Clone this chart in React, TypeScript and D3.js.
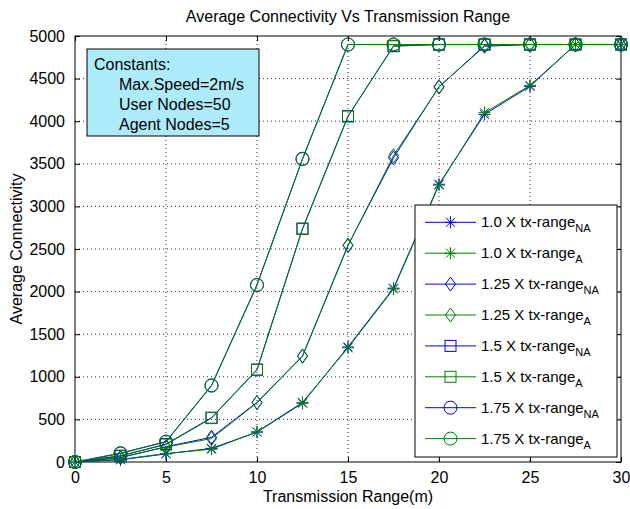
import { useEffect, useRef } from "react";
import * as d3 from "d3";

// transmission range samples (m)
const ranges = [0, 2.5, 5, 7.5, 10, 12.5, 15, 17.5, 20, 22.5, 25, 27.5, 30];

// average connectivity, NA = no agents, A = with agents
const na100 = [0, 25, 95, 160, 350, 690, 1350, 2040, 3260, 4080, 4410, 4900, 4900];
const a100 = [0, 30, 100, 150, 355, 700, 1340, 2030, 3250, 4100, 4420, 4900, 4900];
const na125 = [0, 50, 180, 290, 700, 1245, 2545, 3570, 4405, 4880, 4900, 4900, 4900];
const a125 = [0, 55, 175, 275, 695, 1240, 2540, 3595, 4400, 4890, 4900, 4900, 4900];
const na150 = [0, 70, 210, 520, 1085, 2740, 4060, 4880, 4900, 4900, 4900, 4900, 4900];
const a150 = [0, 75, 205, 515, 1080, 2735, 4055, 4885, 4900, 4900, 4900, 4900, 4900];
const na175 = [0, 100, 240, 900, 2080, 3560, 4900, 4900, 4900, 4900, 4900, 4900, 4900];
const a175 = [0, 105, 235, 895, 2075, 3555, 4900, 4900, 4900, 4900, 4900, 4900, 4900];

const legendNames = ["1.0", "1.0", "1.25", "1.25", "1.5", "1.5", "1.75", "1.75"];
const legendSubs = ["NA", "A", "NA", "A", "NA", "A", "NA", "A"];
const markers = ["star", "star", "diamond", "diamond", "square", "square", "circle", "circle"];

const xTicks = [0, 5, 10, 15, 20, 25, 30];
const yTicks = [0, 500, 1000, 1500, 2000, 2500, 3000, 3500, 4000, 4500, 5000];

const constants = ["Constants:", "Max.Speed=2m/s", "User Nodes=50", "Agent Nodes=5"];

const BLUE = "#0000ff";
const GREEN = "#008000";
const FONT = "'Liberation Sans', Arial, sans-serif";

function marker(g, type, x, y, color) {
  if (type === "star") {
    g.append("path")
      .attr("d", `M${x - 6},${y}H${x + 6}M${x},${y - 6}V${y + 6}M${x - 4.5},${y - 4.5}L${x + 4.5},${y + 4.5}M${x - 4.5},${y + 4.5}L${x + 4.5},${y - 4.5}`)
      .attr("stroke", color).attr("fill", "none");
  } else if (type === "diamond") {
    g.append("path")
      .attr("d", `M${x},${y - 7}L${x + 5},${y}L${x},${y + 7}L${x - 5},${y}Z`)
      .attr("stroke", color).attr("fill", "none");
  } else if (type === "square") {
    g.append("rect")
      .attr("x", x - 5.5).attr("y", y - 5.5).attr("width", 11).attr("height", 11)
      .attr("stroke", color).attr("fill", "none");
  } else {
    g.append("circle")
      .attr("cx", x).attr("cy", y).attr("r", 6.5)
      .attr("stroke", color).attr("fill", "none");
  }
}

const App = () => {
  const svgRef = useRef(null);

  useEffect(() => {
    const svg = d3.select(svgRef.current);
    svg.selectAll("*").remove();

    const width = 630, height = 509;
    const left = 75, right = 621, top = 36, bottom = 462;

    svg.attr("width", width).attr("height", height).style("background", "#fff");

    const x = d3.scaleLinear().domain([0, 30]).range([left, right]);
    const y = d3.scaleLinear().domain([0, 5000]).range([bottom, top]);

    // grid
    const grid = svg.append("g").attr("stroke", "#333").attr("stroke-dasharray", "1,3");
    xTicks.slice(1, -1).forEach((t) => {
      grid.append("line").attr("x1", x(t)).attr("x2", x(t)).attr("y1", top).attr("y2", bottom);
    });
    yTicks.slice(1, -1).forEach((t) => {
      grid.append("line").attr("x1", left).attr("x2", right).attr("y1", y(t)).attr("y2", y(t));
    });

    // axes box with inward ticks
    svg.append("g").attr("transform", `translate(0,${bottom})`)
      .call(d3.axisBottom(x).tickValues(xTicks).tickSizeInner(-5).tickSizeOuter(0).tickPadding(10))
      .call((g) => g.select(".domain").remove());
    svg.append("g").attr("transform", `translate(0,${top})`)
      .call(d3.axisTop(x).tickValues(xTicks).tickSizeInner(-5).tickSizeOuter(0).tickFormat(() => ""))
      .call((g) => g.select(".domain").remove());
    svg.append("g").attr("transform", `translate(${left},0)`)
      .call(d3.axisLeft(y).tickValues(yTicks).tickSizeInner(-5).tickSizeOuter(0).tickPadding(10).tickFormat(d3.format("d")))
      .call((g) => g.select(".domain").remove());
    svg.append("g").attr("transform", `translate(${right},0)`)
      .call(d3.axisRight(y).tickValues(yTicks).tickSizeInner(-5).tickSizeOuter(0).tickFormat(() => ""))
      .call((g) => g.select(".domain").remove());
    svg.selectAll(".tick text").attr("font-family", FONT).attr("font-size", 16).attr("fill", "#000");
    svg.selectAll(".tick line").attr("stroke", "#000");

    svg.append("rect").attr("x", left).attr("y", top).attr("width", right - left).attr("height", bottom - top)
      .attr("fill", "none").attr("stroke", "#000");

    // series
    const values = [na100, a100, na125, a125, na150, a150, na175, a175];
    const line = d3.line().x((d) => x(d[0])).y((d) => y(d[1]));
    values.forEach((vals, i) => {
      const color = i % 2 === 0 ? BLUE : GREEN;
      const pts = ranges.map((r, j) => [r, vals[j]]);
      const g = svg.append("g");
      g.append("path").datum(pts).attr("d", line).attr("fill", "none").attr("stroke", color).attr("stroke-width", 1);
      pts.forEach((p) => marker(g, markers[i], x(p[0]), y(p[1]), color));
    });

    // constants box
    svg.append("rect").attr("x", 87).attr("y", 49).attr("width", 172).attr("height", 87)
      .attr("fill", "#aeebfa").attr("stroke", "#000");
    constants.forEach((c, i) => {
      svg.append("text").attr("x", i === 0 ? 94 : 119).attr("y", 70 + i * 20)
        .attr("font-family", FONT).attr("font-size", 16).text(c);
    });

    // legend
    const lg = svg.append("g");
    lg.append("rect").attr("x", 415).attr("y", 205).attr("width", 202).attr("height", 252)
      .attr("fill", "#fff").attr("stroke", "#000");
    legendNames.forEach((n, i) => {
      const ly = 222.3 + i * 30.9;
      const color = i % 2 === 0 ? BLUE : GREEN;
      lg.append("line").attr("x1", 425).attr("x2", 476).attr("y1", ly).attr("y2", ly).attr("stroke", color);
      marker(lg, markers[i], 450.5, ly, color);
      const t = lg.append("text").attr("x", 481).attr("y", ly + 5)
        .attr("font-family", FONT).attr("font-size", 15);
      t.append("tspan").text(`${n} X tx-range`);
      t.append("tspan").attr("font-size", 11).attr("dy", 5).text(legendSubs[i]);
    });

    // titles
    svg.append("text").attr("x", 348).attr("y", 22).attr("text-anchor", "middle")
      .attr("font-family", FONT).attr("font-size", 16).text("Average Connectivity Vs Transmission Range");
    svg.append("text").attr("x", 348).attr("y", 502).attr("text-anchor", "middle")
      .attr("font-family", FONT).attr("font-size", 16).text("Transmission Range(m)");
    svg.append("text").attr("transform", "translate(22,249) rotate(-90)").attr("text-anchor", "middle")
      .attr("font-family", FONT).attr("font-size", 16).text("Average Connectivity");
  }, []);

  return (
    <div style={{ position: "absolute", left: 0, top: 0 }}>
      <svg ref={svgRef}></svg>
    </div>
  );
};

export default App;
